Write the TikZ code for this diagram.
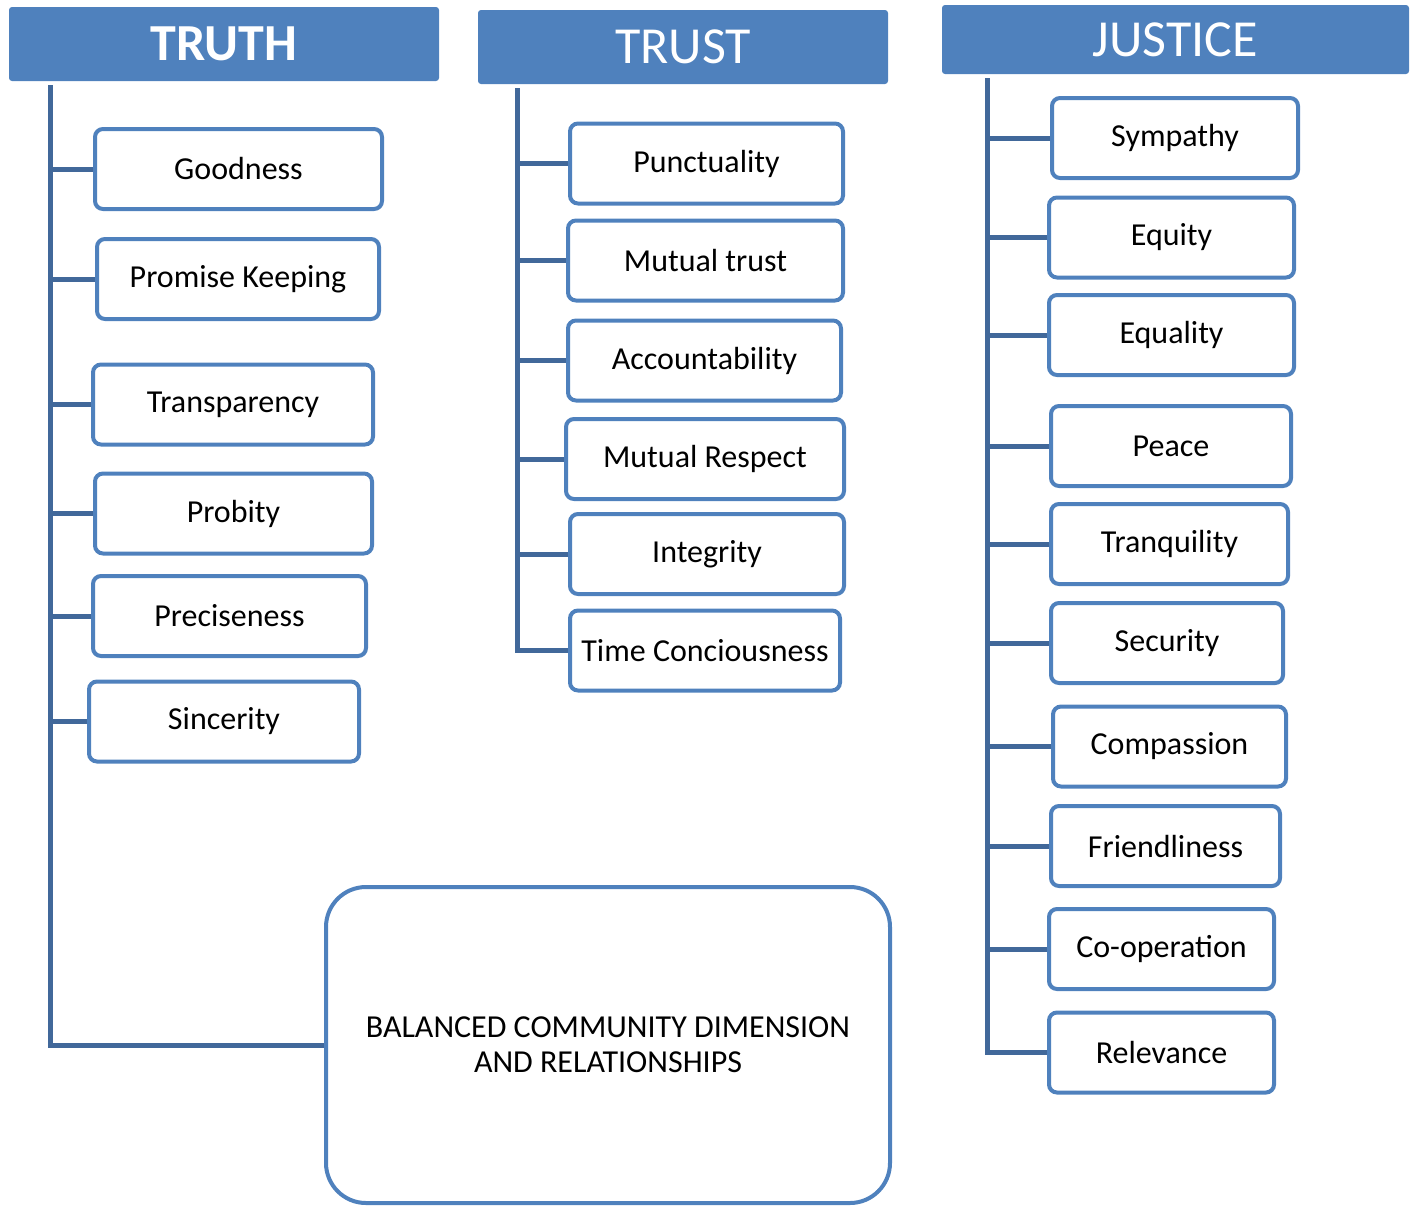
\documentclass[tikz,border=0pt]{standalone}
\usepackage{fontspec}
\setmainfont{Carlito}
\definecolor{headblue}{HTML}{4F81BD}
\definecolor{linkblue}{HTML}{41689A}
\begin{document}
\begin{tikzpicture}[
            x=1pt, y=-1pt,
            header/.style={
                rectangle,
                rounded corners=3pt,
                fill=headblue,
                draw=none,
                minimum height=74pt,
                text=white,
                font=\fontsize{52}{60}\selectfont
            },
            item/.style={
                rectangle,
                rounded corners=8pt,
                draw=headblue,
                line width=4pt,
                fill=white,
                minimum height=80pt,
                inner sep=0pt,
                font=\fontsize{32}{36}\selectfont
            },
            bigbox/.style={
                rectangle,
                rounded corners=40pt,
                draw=headblue,
                line width=4pt,
                minimum width=564pt,
                minimum height=316pt,
                align=center,
                font=\fontsize{32}{35}\selectfont
            },
            link/.style={draw=linkblue, line width=5pt}
        ]
        \useasboundingbox (0,0) rectangle (1411,1205);

        % Column headers
        \node[header, minimum width=430pt] (truth) at (224,44) {\bfseries TRUTH};
        \node[header, minimum width=410pt] (trust) at (683,47) {TRUST};
        \node[header, minimum width=467pt, minimum height=69pt] (justice) at (1175.5,39.5) {JUSTICE};

        % Tops of the trunk lines
        \coordinate (truthtop) at (50,85);
        \coordinate (trusttop) at (517,88);
        \coordinate (justtop) at (987,78);

        % Items under TRUTH
        \node[item, minimum width=287pt] (good) at (238.5,169) {Goodness};
        \node[item, minimum width=282pt] (promise) at (238,279) {Promise Keeping};
        \node[item, minimum width=280pt] (transp) at (233,404.5) {Transparency};
        \node[item, minimum width=277pt] (probity) at (233.5,513.5) {Probity};
        \node[item, minimum width=273pt] (precise) at (229.5,616) {Preciseness};
        \node[item, minimum width=270pt] (sincere) at (224,721.5) {Sincerity};

        % Items under TRUST
        \node[item, minimum width=273pt] (punct) at (706.5,163.5) {Punctuality};
        \node[item, minimum width=275pt] (mtrust) at (705.5,260.5) {Mutual trust};
        \node[item, minimum width=273pt] (account) at (704.5,360.5) {Accountability};
        \node[item, minimum width=278pt] (mrespect) at (705,459) {Mutual Respect};
        \node[item, minimum width=274pt] (integ) at (707,554) {Integrity};
        \node[item, minimum width=270pt] (timec) at (705,650.5) {Time Conciousness};

        % Items under JUSTICE
        \node[item, minimum width=246pt] (symp) at (1175,138) {Sympathy};
        \node[item, minimum width=245pt] (equity) at (1171.5,237.5) {Equity};
        \node[item, minimum width=245pt] (equality) at (1171.5,335) {Equality};
        \node[item, minimum width=240pt] (peace) at (1171,446) {Peace};
        \node[item, minimum width=237pt] (tranq) at (1169.5,544) {Tranquility};
        \node[item, minimum width=232pt] (secur) at (1167,643) {Security};
        \node[item, minimum width=233pt] (compass) at (1169.5,746.5) {Compassion};
        \node[item, minimum width=229pt] (friend) at (1165.5,846) {Friendliness};
        \node[item, minimum width=225pt] (coop) at (1161.5,949) {Co-operation};
        \node[item, minimum width=225pt] (relev) at (1161.5,1052.5) {Relevance};

        % Bottom box
        \node[bigbox] (balance) at (608,1045) {BALANCED COMMUNITY DIMENSION\\AND RELATIONSHIPS};

        % Trunk lines
        \draw[link] (truthtop) |- (balance.west);
        \draw[link] (trusttop) |- (timec.west);
        \draw[link] (justtop) |- (relev.west);

        % Branches to TRUTH items
        \draw[link] (good.west) -- (good.west -| truthtop);
        \draw[link] (promise.west) -- (promise.west -| truthtop);
        \draw[link] (transp.west) -- (transp.west -| truthtop);
        \draw[link] (probity.west) -- (probity.west -| truthtop);
        \draw[link] (precise.west) -- (precise.west -| truthtop);
        \draw[link] (sincere.west) -- (sincere.west -| truthtop);

        % Branches to TRUST items
        \draw[link] (punct.west) -- (punct.west -| trusttop);
        \draw[link] (mtrust.west) -- (mtrust.west -| trusttop);
        \draw[link] (account.west) -- (account.west -| trusttop);
        \draw[link] (mrespect.west) -- (mrespect.west -| trusttop);
        \draw[link] (integ.west) -- (integ.west -| trusttop);

        % Branches to JUSTICE items
        \draw[link] (symp.west) -- (symp.west -| justtop);
        \draw[link] (equity.west) -- (equity.west -| justtop);
        \draw[link] (equality.west) -- (equality.west -| justtop);
        \draw[link] (peace.west) -- (peace.west -| justtop);
        \draw[link] (tranq.west) -- (tranq.west -| justtop);
        \draw[link] (secur.west) -- (secur.west -| justtop);
        \draw[link] (compass.west) -- (compass.west -| justtop);
        \draw[link] (friend.west) -- (friend.west -| justtop);
        \draw[link] (coop.west) -- (coop.west -| justtop);

        \end{tikzpicture}
\end{document}
